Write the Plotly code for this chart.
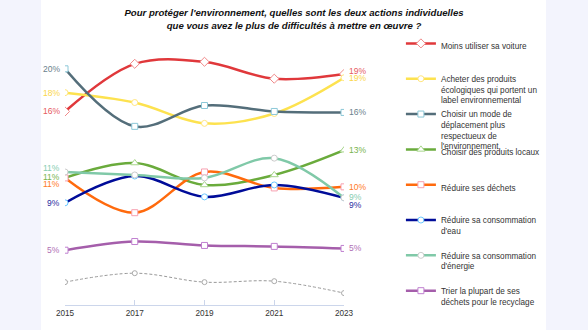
import plotly.graph_objects as go

years = [2015, 2017, 2019, 2021, 2023]
tick_labels = ["2015", "2017", "2019", "2021", "2023"]

voiture = [16.25, 20.25, 20.42, 19.0, 19.4]
ecologiques = [17.83, 17.0, 15.25, 16.08, 19.08]
deplacement = [19.83, 15.0, 16.75, 16.25, 16.17]
locaux = [10.67, 11.92, 10.08, 10.92, 13.0]
dechets = [10.67, 7.75, 11.17, 9.83, 9.92]
eau = [8.58, 10.83, 9.08, 10.08, 9.0]
energie = [11.17, 10.92, 10.67, 12.33, 9.0]
recyclage = [4.6, 5.33, 5.0, 4.92, 4.75]
autre = [1.92, 2.67, 1.92, 2.0, 1.0]

names = [
    "Moins utiliser sa voiture",
    "Acheter des produits<br>écologiques qui portent un<br>label environnemental",
    "Choisir un mode de<br>déplacement plus<br>respectueux de<br>l'environnement",
    "Choisir des produits locaux",
    "Réduire ses déchets",
    "Réduire sa consommation<br>d'eau",
    "Réduire sa consommation<br>d'énergie",
    "Trier la plupart de ses<br>déchets pour le recyclage",
]
series = [voiture, ecologiques, deplacement, locaux, dechets, eau, energie, recyclage]

colors = ["#e0383b", "#fde24f", "#546e7a", "#6aab3c", "#ff6a0d", "#000c99", "#80c9a8", "#a55eab"]
label_colors = ["#e65a5f", "#fbd64a", "#6b7f8c", "#78b44e", "#ff7a26", "#2b2ba0", "#86cdb0", "#b070b5"]
marker_lines = ["#f08a8a", "#ffe680", "#8cc8d8", "#a8d68c", "#f7a0b0", "#6cc8ff", "#cccccc", "#c080d0"]
symbols = ["diamond", "circle", "square", "triangle-up", "square", "circle", "circle", "square"]
msizes = [7, 6, 6, 7, 6, 6, 6, 6]
first_shift = [0, 0, 0, 1, -6, 0, 4, 0]
last_shift = [3, 0, 0, 0, 0, -7, 1, 0]

FONT = "Arial, Liberation Sans, sans-serif"

fig = go.Figure()

fig.add_trace(go.Scatter(
    x=years, y=autre, mode="lines+markers", name="Autre", showlegend=False,
    line=dict(color="#999999", width=1, dash="3px,2px", shape="spline"),
    marker=dict(symbol="circle", size=5, color="white", line=dict(color="#aaaaaa", width=1)),
    hoverinfo="skip",
))

for i, (nm, vals) in enumerate(zip(names, series)):
    lg = "legend" if i == 0 else f"legend{i+1}"
    fig.add_trace(go.Scatter(
        x=years, y=vals, mode="lines+markers", name=nm, legend=lg,
        line=dict(color=colors[i], width=2.5, shape="spline"),
        marker=dict(symbol=symbols[i], size=msizes[i], color="white",
                    line=dict(color=marker_lines[i], width=1)),
    ))
    fig.add_annotation(x=years[0], y=vals[0], text=f"{vals[0]:.0f}%", showarrow=False,
                       xanchor="right", yanchor="middle", xshift=-3, yshift=first_shift[i],
                       font=dict(family=FONT, size=8.5, color=label_colors[i]))
    fig.add_annotation(x=years[-1], y=vals[-1], text=f"{vals[-1]:.0f}%", showarrow=False,
                       xanchor="left", yanchor="middle", xshift=3, yshift=last_shift[i],
                       font=dict(family=FONT, size=8.5, color=label_colors[i]))

legend_x = 1.204
legend_y0 = 1.0318
legend_step = 0.1333
legends = {}
for i in range(len(names)):
    key = "legend" if i == 0 else f"legend{i+1}"
    legends[key] = dict(
        x=legend_x, y=legend_y0 - i * legend_step, xanchor="left", yanchor="top",
        valign="top", bgcolor="rgba(0,0,0,0)", borderwidth=0,
        font=dict(family=FONT, size=8.2, color="#333333"), itemwidth=30,
    )

fig.add_shape(type="rect", xref="paper", yref="paper", x0=-0.086, x1=1.724, y0=-0.2, y1=1.3,
              fillcolor="white", line=dict(width=0), layer="below")

fig.update_layout(
    width=588, height=330,
    margin=dict(l=65, r=244, t=40, b=23),
    paper_bgcolor="#f3f4fd", plot_bgcolor="white",
    font=dict(family=FONT, color="#333333"),
    title=dict(
        text="<b><i>Pour protéger l'environnement, quelles sont les deux actions individuelles<br>que vous avez le plus de difficultés à mettre en œuvre ?</i></b>",
        x=0.5, xref="container", xanchor="center", yref="container", y=0.951, yanchor="middle",
        font=dict(family=FONT, size=9.6, color="#111111"),
    ),
    xaxis=dict(range=[2015, 2023], tickvals=years, ticktext=tick_labels, showgrid=False,
               zeroline=False, showline=True, linecolor="#ccd6eb", linewidth=1,
               ticks="inside", ticklen=5, tickcolor="#ccd6eb",
               tickfont=dict(family=FONT, size=8.2, color="#333333")),
    yaxis=dict(range=[0, 22.25], visible=False, showgrid=False, zeroline=False),
    showlegend=True,
    **legends,
)

fig.write_html("out.html")
